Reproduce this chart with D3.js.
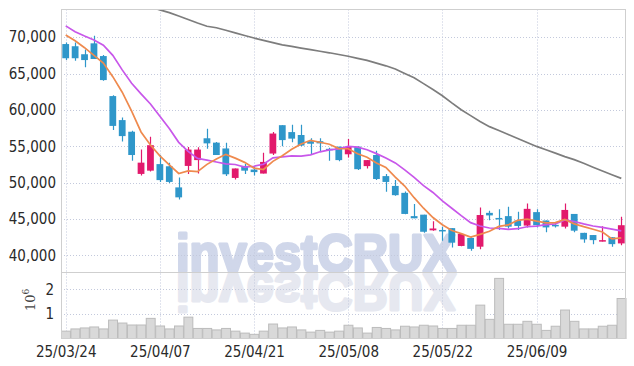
<!DOCTYPE html>
<html><head><meta charset="utf-8">
<script src="https://cdn.jsdelivr.net/npm/d3@7"></script>
<style>
html,body{margin:0;padding:0;background:#fff;}
svg{display:block;}
.lbl{font-family:"Liberation Sans Narrow","DejaVu Sans Condensed","Roboto Condensed",sans-serif;font-size:15px;fill:#2a2a2a;}
</style></head>
<body><svg id="c" width="634" height="366"></svg>
<script>
const dates = ["25/03/24","25/03/25","25/03/26","25/03/27","25/03/28","25/03/31","25/04/01","25/04/02","25/04/03","25/04/04",
"25/04/07","25/04/08","25/04/09","25/04/10","25/04/11","25/04/14","25/04/15","25/04/16","25/04/17","25/04/18",
"25/04/21","25/04/22","25/04/23","25/04/24","25/04/25","25/04/28","25/04/29","25/04/30","25/05/02","25/05/07",
"25/05/08","25/05/09","25/05/12","25/05/13","25/05/14","25/05/15","25/05/16","25/05/19","25/05/20","25/05/21",
"25/05/22","25/05/23","25/05/26","25/05/27","25/05/28","25/05/29","25/05/30","25/06/02","25/06/04","25/06/05",
"25/06/09","25/06/10","25/06/11","25/06/12","25/06/13","25/06/16","25/06/17","25/06/18","25/06/19","25/06/20"];
const open = [69050,68750,67650,69150,67400,61900,58600,57000,51200,51650,
52550,52250,49350,52300,53100,56100,55500,54700,50650,52300,
51800,51250,54000,57900,56950,56550,55700,55700,54650,54950,
53900,54950,52275,53800,50900,49550,48600,45400,45600,43450,
43500,43750,41300,42400,41200,45850,45150,45400,44800,44100,
45950,44800,44200,43950,45700,43100,42800,41900,42500,41650];
const high = [69250,69250,68300,70200,67550,62000,58950,57150,54550,56300,
53800,52750,50700,54900,54850,57400,55580,55500,51950,52550,
52300,54100,56950,57900,57950,57950,56100,56100,54800,54950,
56000,55000,53100,54400,51200,50350,48800,47050,45600,44700,
43950,43750,43050,42500,46600,46150,46350,46700,46000,47150,
46350,44800,44450,47150,45700,43100,42800,44000,42500,45300];
const low = [66850,66750,65850,67000,64000,57250,55650,53000,51000,51550,
50100,49950,47700,51200,51250,54650,53800,50900,50450,51200,
51000,51250,53800,55000,55550,55000,53850,54300,53000,52950,
53450,51750,51950,50350,48750,48200,45650,45100,43100,43400,
42000,41100,41250,40650,40850,44850,43500,43700,43500,43850,
43850,43200,43850,43700,43200,41750,41550,41900,41200,41400];
const close = [67100,67100,66850,67000,64100,57800,56400,53800,52750,55150,
50350,50100,47980,54550,54550,55400,53800,51150,51950,51650,
51450,52850,56750,55850,56050,55100,55350,55400,54500,53100,
54950,51850,53100,50500,50100,48280,45700,45100,43250,43700,
43300,41750,42950,40900,45550,45500,45050,43950,44050,46400,
44150,43850,44050,46250,43400,42200,42100,42100,41550,44150];
const volume = [0.30,0.39,0.43,0.47,0.39,0.75,0.63,0.55,0.55,0.82,
0.51,0.39,0.51,0.87,0.41,0.41,0.35,0.41,0.30,0.22,
0.17,0.30,0.59,0.43,0.47,0.35,0.26,0.33,0.26,0.30,
0.54,0.43,0.22,0.45,0.41,0.35,0.50,0.47,0.54,0.51,
0.41,0.41,0.54,0.54,1.36,0.78,2.45,0.58,0.58,0.70,
0.58,0.33,0.50,1.16,0.70,0.39,0.39,0.50,0.54,1.63];
const ma5 = [70300,69500,68550,67500,66430,64570,62430,59820,56970,55180,
53690,52430,51266,51626,51506,52516,53256,53890,53370,52790,
52000,51810,52930,53710,54590,55320,55820,55550,55280,54690,
54660,53960,53500,52700,52100,50766,49536,47936,46486,45206,
44210,43420,42990,42520,42890,43330,43990,44190,44820,44990,
44720,44480,44500,44940,44340,43950,43600,43210,42270,42420];
const ma10 = [71550,70750,70150,69600,68900,67500,65500,63650,62200,60805,
59130,57430,55543,54298,53343,53103,52843,52578,52498,52148,
52258,52533,53410,53540,53690,53660,53815,54240,54495,54640,
54990,54890,54525,53990,53395,52713,51748,50718,49593,48653,
47488,46478,45463,44503,44048,43770,43705,43590,43670,43940,
44025,44235,44345,44880,44665,44335,44040,43855,43605,43380];
const ma60 = [null,null,null,null,null,null,null,null,null,74140,
73750,73370,72900,72430,71940,71500,71290,70950,70590,70230,
69880,69560,69240,68940,68720,68490,68280,68060,67850,67610,
67380,67090,66810,66430,66060,65630,65010,64420,63610,62800,
61950,60960,60020,59210,58400,57700,57160,56620,56080,55520,
54980,54520,54060,53580,53160,52660,52120,51600,51090,50590];
const xTickLabels = ["25/03/24","25/04/07","25/04/21","25/05/08","25/05/22","25/06/09"];
const priceTicks = [40000,45000,50000,55000,60000,65000,70000];
const volTicks = [1,2];

const W=634,H=366;
const L=61,R=626,mTop=9.5,mBot=272,vBot=338.5;
const svg=d3.select("#c");
const idx=d3.range(dates.length);
const x=d3.scaleBand().domain(idx).range([L,R]).paddingInner(0).paddingOuter(0);
const cx=i=>x(i)+x.bandwidth()/2;
const y=d3.scaleLinear().domain([37720,73800]).range([mBot,mTop]);
const yv=d3.scaleLinear().domain([0,2.71]).range([vBot,mBot]);

svg.append("rect").attr("width",W).attr("height",H).attr("fill","#fff");
svg.append("defs").append("clipPath").attr("id","clipM").append("rect")
  .attr("x",L).attr("y",mTop).attr("width",R-L).attr("height",mBot-mTop);

// watermark
const wm=svg.append("g");
wm.append("text").text("investCRUX").attr("x",176).attr("y",270.5)
  .attr("font-family","'Liberation Sans',Arial,sans-serif").attr("font-weight","bold")
  .attr("font-size",52).attr("textLength",280).attr("lengthAdjust","spacingAndGlyphs")
  .attr("fill","#d0d7ea").attr("stroke","#d0d7ea").attr("stroke-width",3).attr("stroke-linejoin","round");
wm.append("text").text("investCRUX").attr("x",176).attr("y",270.5)
  .attr("transform","translate(0,"+(2*272)+") scale(1,-1)")
  .attr("font-family","'Liberation Sans',Arial,sans-serif").attr("font-weight","bold")
  .attr("font-size",52).attr("textLength",280).attr("lengthAdjust","spacingAndGlyphs")
  .attr("fill","#e6e8f0").attr("stroke","#e6e8f0").attr("stroke-width",3).attr("stroke-linejoin","round");

// grid
const grid=svg.append("g").attr("stroke","#c3c9dc").attr("stroke-width",1).attr("stroke-dasharray","1,2");
grid.selectAll(".hg").data(priceTicks).join("line")
  .attr("x1",L).attr("x2",R).attr("y1",d=>Math.round(y(d))+0.5).attr("y2",d=>Math.round(y(d))+0.5);
grid.selectAll(".vg").data(volTicks).join("line").attr("class","vg")
  .attr("x1",L).attr("x2",R).attr("y1",d=>Math.round(yv(d))+0.5).attr("y2",d=>Math.round(yv(d))+0.5);
const tickIdx=xTickLabels.map(t=>dates.indexOf(t));
grid.selectAll(".xg").data(tickIdx).join("line").attr("class","xg")
  .attr("x1",d=>Math.round(cx(d))+0.5).attr("x2",d=>Math.round(cx(d))+0.5).attr("y1",mTop).attr("y2",vBot);

// volume bars
svg.append("g").selectAll("rect").data(idx).join("rect")
  .attr("x",i=>x(i)+0.5).attr("width",x.bandwidth()-0.5)
  .attr("y",i=>yv(volume[i])).attr("height",i=>vBot-yv(volume[i]))
  .attr("fill","#d9d9d9").attr("stroke","#bcbcbc").attr("stroke-width",1);

// candles
const up="#e2196c",dn="#2f97ca";
const cg=svg.append("g").attr("clip-path","url(#clipM)");
const bw=x.bandwidth()*0.72;
cg.selectAll(".wick").data(idx).join("line")
  .attr("x1",i=>Math.round(cx(i))+0.5).attr("x2",i=>Math.round(cx(i))+0.5)
  .attr("y1",i=>y(high[i])).attr("y2",i=>y(low[i]))
  .attr("stroke",i=>close[i]>=open[i]?up:dn).attr("stroke-width",1.2);
cg.selectAll(".body").data(idx).join("rect")
  .attr("x",i=>cx(i)-bw/2).attr("width",bw)
  .attr("y",i=>y(Math.max(open[i],close[i])))
  .attr("height",i=>Math.max(1.5,Math.abs(y(open[i])-y(close[i]))))
  .attr("fill",i=>close[i]>=open[i]?up:dn);

// MA lines
const mkLine=arr=>d3.line().defined(i=>arr[i]!=null).x(i=>cx(i)).y(i=>y(arr[i]))(idx);
cg.append("path").attr("d",mkLine(ma60)).attr("fill","none").attr("stroke","#7d7d7d").attr("stroke-width",1.7);
cg.append("path").attr("d",mkLine(ma10)).attr("fill","none").attr("stroke","#c857ea").attr("stroke-width",1.7);
cg.append("path").attr("d",mkLine(ma5)).attr("fill","none").attr("stroke","#ef8a4e").attr("stroke-width",1.7);

// frame
const fr=svg.append("g").attr("fill","none").attr("stroke","#cfcfcf").attr("stroke-width",1);
fr.append("rect").attr("x",L+0.5).attr("y",mTop).attr("width",R-L-1).attr("height",vBot-mTop);
fr.append("line").attr("x1",L).attr("x2",R).attr("y1",mBot+0.5).attr("y2",mBot+0.5);

// axes
const fmt=d3.format(",");
const yAx=d3.axisLeft(y).tickValues(priceTicks).tickFormat(fmt).tickSize(0).tickPadding(5);
const ga=svg.append("g").attr("transform","translate("+L+",0)").call(yAx);
ga.select(".domain").remove();
ga.selectAll("text").attr("class","lbl").attr("fill",null).attr("font-size",null).attr("font-family",null);
const vAx=d3.axisLeft(yv).tickValues(volTicks).tickFormat(d3.format("d")).tickSize(0).tickPadding(7);
const gv=svg.append("g").attr("transform","translate("+L+",0)").call(vAx);
gv.select(".domain").remove();
gv.selectAll("text").attr("class","lbl").attr("fill",null).attr("font-size",null).attr("font-family",null);
const gx=svg.append("g").attr("transform","translate(0,"+vBot+")").call(
  d3.axisBottom(d3.scaleOrdinal().domain(xTickLabels).range(tickIdx.map(cx))).tickSize(0).tickPadding(8));
gx.select(".domain").remove();
gx.selectAll("text").attr("class","lbl").attr("fill",null).attr("font-size",null).attr("font-family",null);

// volume unit label
const ul=svg.append("text").attr("transform","translate(35,311) rotate(-90)")
  .attr("font-family","'DejaVu Serif','Liberation Serif',serif").attr("font-size",13).attr("fill","#444");
ul.append("tspan").text("10");
ul.append("tspan").text("6").attr("font-size",9).attr("dy",-6);
</script></body></html>
